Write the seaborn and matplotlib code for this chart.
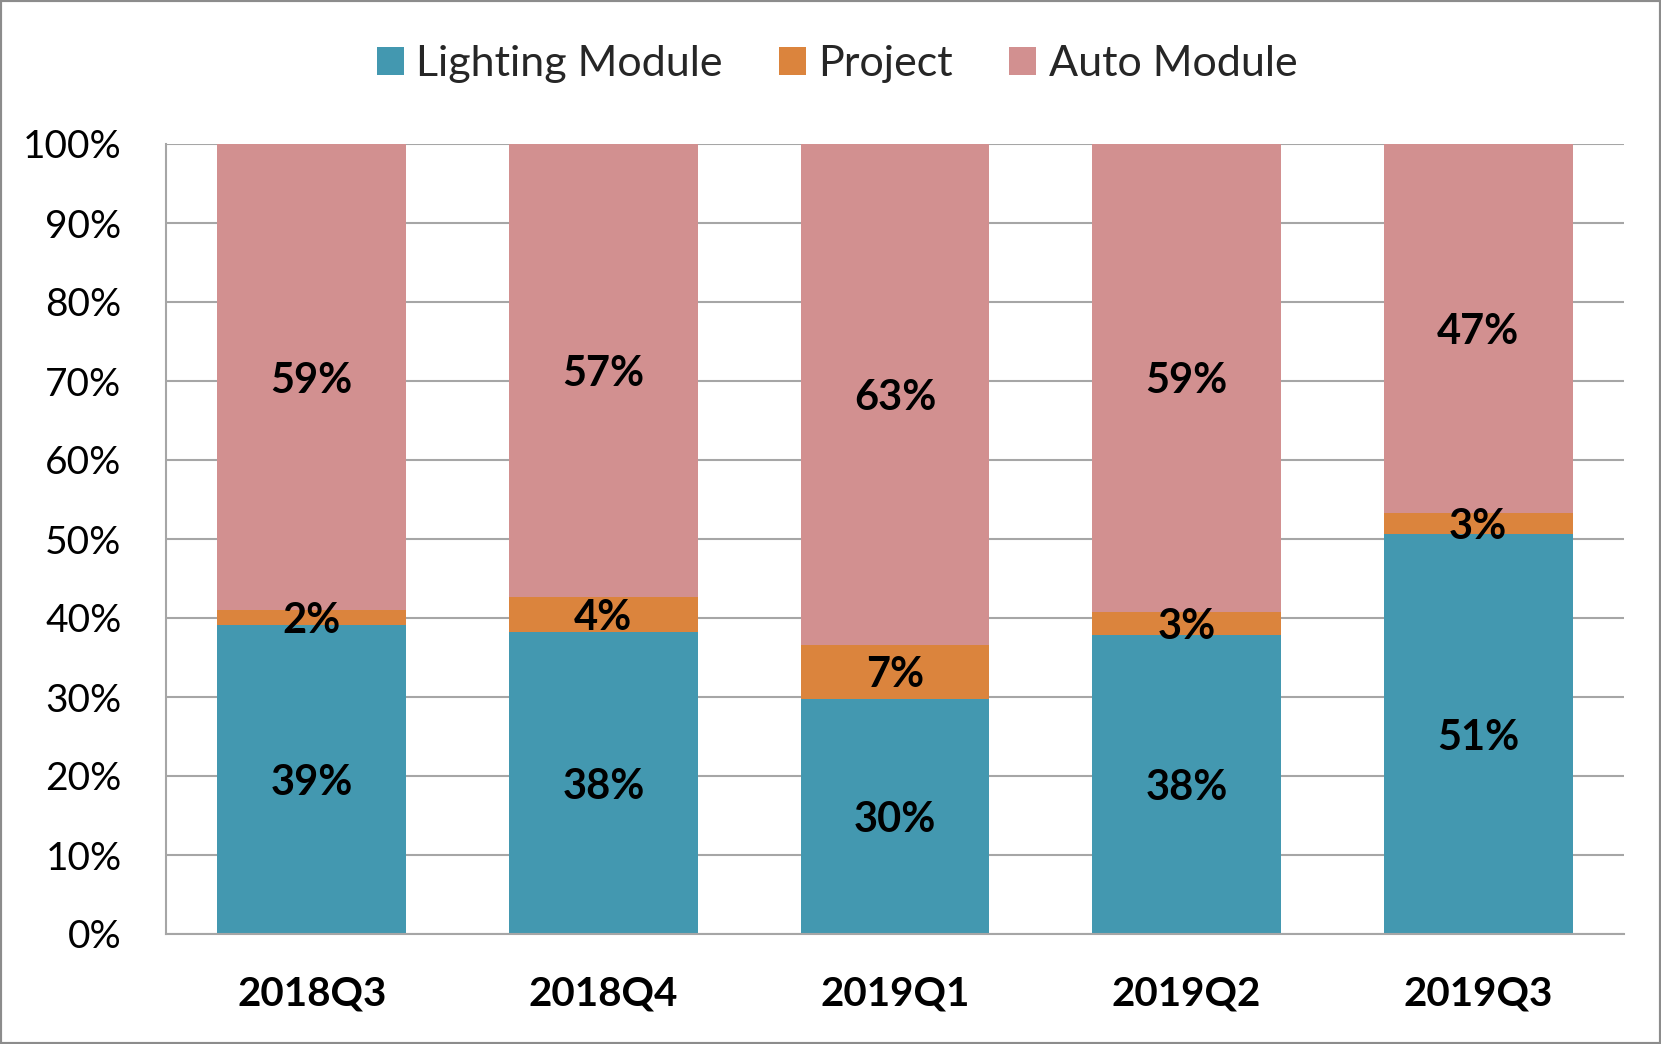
import matplotlib
matplotlib.use('Agg')
import matplotlib.pyplot as plt
import seaborn as sns
import pandas as pd
from matplotlib.patches import Patch, Rectangle

quarters = ['2018Q3', '2018Q4', '2019Q1', '2019Q2', '2019Q3']
lighting = [39.1, 38.2, 29.8, 37.8, 50.6]
project = [1.9, 4.4, 6.8, 3.0, 2.7]
auto = [59.0, 57.4, 63.4, 59.2, 46.7]
series_names = ['Lighting Module', 'Project', 'Auto Module']
colors = ['#4398B0', '#DB843D', '#D29090']
yticks = [0, 10, 20, 30, 40, 50, 60, 70, 80, 90, 100]

sns.set_theme(style='white')
plt.rcParams['font.family'] = ['Lato', 'DejaVu Sans']

W, H = 1661, 1044
fig = plt.figure(figsize=(W / 100, H / 100), dpi=100)
ax = fig.add_axes([166 / W, 1 - 934 / H, (1624 - 166) / W, (934 - 144) / H])

df = pd.DataFrame({'quarter': quarters, 'Lighting Module': lighting,
                   'Project': project, 'Auto Module': auto})
cum = df[series_names].cumsum(axis=1)

for name, color in reversed(list(zip(series_names, colors))):
    sns.barplot(x=df['quarter'], y=cum[name], color=color, width=0.647,
                saturation=1, ax=ax, linewidth=0, zorder=2)

for i in range(len(quarters)):
    bottom = 0
    for name in series_names:
        v = df[name][i]
        ax.text(i, bottom + v / 2, f'{int(round(v))}%', ha='center', va='center_baseline',
                fontsize=30, fontweight='bold', color='black', zorder=5)
        bottom += v

ax.set_ylim(0, 100)
ax.set_xlim(-0.5, len(quarters) - 0.5)
ax.set_yticks(yticks)
ax.set_yticklabels([f'{t}%' for t in yticks], fontsize=28)
ax.set_xticks(range(len(quarters)))
ax.set_xticklabels(quarters, fontsize=29, fontweight='bold')
ax.tick_params(axis='y', length=0, pad=32, colors='black')
ax.tick_params(axis='x', length=0, pad=30, colors='black')
ax.set_xlabel('')
ax.set_ylabel('')
ax.yaxis.grid(True, color='#A6A6A6', linewidth=1.5)
ax.set_axisbelow(True)
for s in ['top', 'right']:
    ax.spines[s].set_visible(False)
for s in ['left', 'bottom']:
    ax.spines[s].set_color('#A6A6A6')
    ax.spines[s].set_linewidth(1.5)

handles = [Patch(facecolor=c, edgecolor='none', label=n) for n, c in zip(series_names, colors)]
fig.legend(handles=handles, loc='center', bbox_to_anchor=(0.504, 1 - 64 / H), ncol=3,
           frameon=False, fontsize=31, handlelength=0.62, handleheight=0.62,
           handletextpad=0.3, columnspacing=1.3)

fig.patches.append(Rectangle((0, 0), 1, 1, transform=fig.transFigure, fill=False,
                             edgecolor='#8C8C8C', linewidth=3))

fig.savefig('out.png', dpi=100)
